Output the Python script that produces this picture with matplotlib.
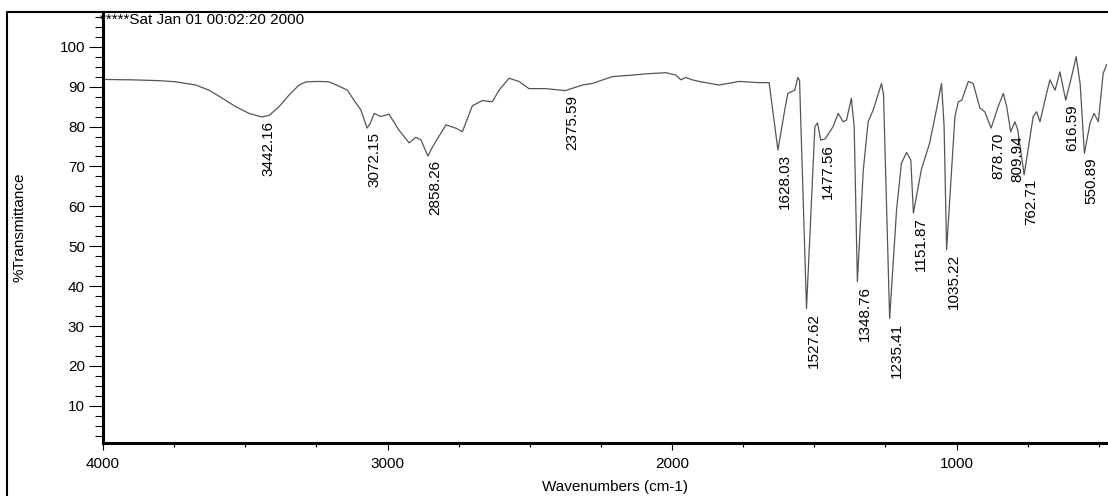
import matplotlib
matplotlib.use("Agg")
import matplotlib.pyplot as plt
from matplotlib.lines import Line2D
from matplotlib.ticker import MultipleLocator

plt.rcParams['font.family'] = ['Liberation Sans', 'DejaVu Sans']

# spectrum (cm-1, %T)
wavenumber = [4000, 3897, 3803, 3744, 3674, 3627, 3581, 3534, 3487, 3442,
              3416, 3381, 3346, 3311, 3286, 3241, 3206, 3164, 3141, 3118,
              3094, 3072, 3060, 3047, 3024, 2995, 2960, 2924, 2901, 2883,
              2858, 2842, 2795, 2760, 2737, 2702, 2667, 2632, 2608, 2573,
              2538, 2503, 2444, 2376, 2315, 2280, 2210, 2140, 2092, 2022,
              1987, 1969, 1952, 1929, 1905, 1835, 1764, 1694, 1659, 1628,
              1604, 1593, 1569, 1558, 1552, 1527.6, 1498, 1489, 1477.6, 1462,
              1434, 1416, 1399, 1387, 1370, 1360, 1348.8, 1328, 1311, 1293,
              1264, 1257, 1235.4, 1211, 1194, 1176, 1161, 1151.9, 1124, 1095,
              1071, 1053, 1044, 1035.2, 1006, 994, 982, 959, 942, 918,
              901, 878.7, 854, 836, 824, 810, 795, 785, 762.7, 731,
              719, 707, 684, 672, 654, 637, 616.6, 596, 580, 566,
              550.9, 531, 517, 502, 485, 473]
transmittance = [91.8, 91.7, 91.5, 91.2, 90.4, 89.1, 87.1, 85.0, 83.3, 82.4,
                 82.8, 85.0, 87.9, 90.4, 91.2, 91.3, 91.2, 89.9, 89.1, 86.6,
                 84.2, 79.6, 80.9, 83.3, 82.5, 83.1, 79.1, 75.9, 77.3, 76.7,
                 72.6, 74.9, 80.4, 79.6, 78.7, 85.2, 86.5, 86.2, 89.1, 92.1,
                 91.3, 89.5, 89.5, 89.0, 90.4, 90.8, 92.5, 92.9, 93.2, 93.5,
                 92.9, 91.7, 92.3, 91.7, 91.3, 90.4, 91.3, 91.0, 91.0, 74.1,
                 84.2, 88.3, 89.1, 92.3, 91.5, 34.4, 80.0, 80.9, 76.6, 76.9,
                 80.0, 83.3, 81.2, 81.6, 87.1, 80.0, 41.1, 69.1, 81.2, 84.2,
                 90.8, 88.0, 31.9, 59.2, 70.8, 73.5, 71.6, 58.3, 69.2, 75.8,
                 84.2, 90.8, 80.0, 49.1, 82.5, 86.2, 86.6, 91.3, 90.8, 84.6,
                 83.7, 79.6, 85.0, 88.3, 85.0, 78.7, 81.2, 79.1, 67.9, 82.5,
                 83.7, 81.2, 88.3, 91.7, 89.1, 93.7, 86.6, 92.5, 97.5, 90.8,
                 73.3, 80.9, 83.3, 81.2, 93.3, 95.5]

# labelled minima
peak_wn = [3442.16, 3072.15, 2858.26, 2375.59, 1628.03, 1527.62, 1477.56, 1348.76,
           1235.41, 1151.87, 1035.22, 878.70, 809.94, 762.71, 616.59, 550.89]
peak_t = [82.4, 79.6, 72.6, 89.0, 74.1, 34.4, 76.6, 41.1,
          31.9, 58.3, 49.1, 79.6, 78.7, 67.9, 86.6, 73.3]

W, H = 1108, 496
fig = plt.figure(figsize=(W / 100, H / 100), dpi=100)
ax = fig.add_axes([103 / W, 1 - 443 / H, 1005 / W, 431 / H])

ax.plot(wavenumber, transmittance, color='#555555', lw=0.9)

for w, t in zip(peak_wn, peak_t):
    ax.annotate('%.2f' % w, xy=(w, t), xytext=(0, -4), textcoords='offset pixels',
                rotation=90, ha='left', va='top', fontsize=11, color='black')

ax.set_xlim(4000, 468)
ax.set_ylim(0.7, 108.7)
ax.xaxis.set_major_locator(MultipleLocator(1000))
ax.xaxis.set_minor_locator(MultipleLocator(250))
ax.yaxis.set_major_locator(MultipleLocator(10))
ax.yaxis.set_minor_locator(MultipleLocator(2.5))

for s in ['top', 'right']:
    ax.spines[s].set_visible(False)
for s in ['left', 'bottom']:
    ax.spines[s].set_linewidth(2.2)

ax.tick_params(axis='y', which='major', length=10, width=0.8, pad=3, labelsize=11)
ax.tick_params(axis='y', which='minor', length=6, width=0.8)
ax.tick_params(axis='x', which='major', length=5, width=0.8, pad=5, labelsize=11)
ax.tick_params(axis='x', which='minor', length=3, width=0.8)

ax.set_xlabel('Wavenumbers (cm-1)', fontsize=11)
ax.xaxis.set_label_coords(0.509, -0.085)
ax.set_ylabel('%Transmittance', fontsize=11)
ax.yaxis.set_label_coords(-0.076, 0.5)

fig.text(100 / W, 1 - 12.5 / H, '*****Sat Jan 01 00:02:20 2000', ha='left', va='top',
         fontsize=11)

# outer frame of the printout
fig.add_artist(Line2D([7 / W, 7 / W, 1], [0, 1 - 11.5 / H, 1 - 11.5 / H],
                      transform=fig.transFigure, color='black', lw=1.5))

fig.savefig('out.png', dpi=100)
